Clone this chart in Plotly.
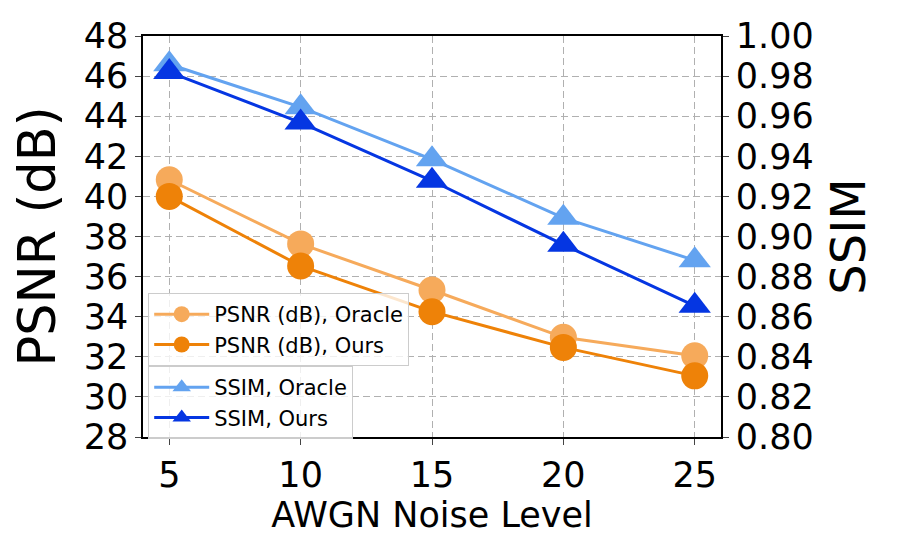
import plotly.graph_objects as go

noise = [5, 10, 15, 20, 25]
psnr_oracle = [40.83, 37.63, 35.33, 32.97, 32.05]
psnr_ours = [40.00, 36.53, 34.25, 32.47, 31.05]
ssim_oracle = [0.9859, 0.9645, 0.9385, 0.9093, 0.8881]
ssim_ours = [0.9820, 0.9568, 0.9278, 0.8959, 0.8654]

left_ticks = list(range(28, 49, 2))
right_ticks = [0.80, 0.82, 0.84, 0.86, 0.88, 0.90, 0.92, 0.94, 0.96, 0.98, 1.00]

c_po = "#F6AA5B"
c_pu = "#EE8208"
c_so = "#63A3F0"
c_su = "#0536E2"

FONT = "DejaVu Sans"

fig = go.Figure()
fig.add_trace(go.Scatter(x=noise, y=psnr_oracle, name="PSNR (dB), Oracle", mode="lines+markers",
                         line=dict(color=c_po, width=3), marker=dict(symbol="circle", size=27, color=c_po),
                         legend="legend", yaxis="y"))
fig.add_trace(go.Scatter(x=noise, y=psnr_ours, name="PSNR (dB), Ours", mode="lines+markers",
                         line=dict(color=c_pu, width=3), marker=dict(symbol="circle", size=27, color=c_pu),
                         legend="legend", yaxis="y"))
fig.add_trace(go.Scatter(x=noise, y=ssim_oracle, name="SSIM, Oracle", mode="lines+markers",
                         line=dict(color=c_so, width=3), marker=dict(symbol="triangle-up", size=28, color=c_so),
                         legend="legend2", yaxis="y2"))
fig.add_trace(go.Scatter(x=noise, y=ssim_ours, name="SSIM, Ours", mode="lines+markers",
                         line=dict(color=c_su, width=3), marker=dict(symbol="triangle-up", size=28, color=c_su),
                         legend="legend2", yaxis="y2"))

grid = dict(showgrid=True, gridcolor="#b0b0b0", gridwidth=1.1, griddash="7px,4px")

fig.update_layout(
    width=900, height=555,
    margin=dict(l=143, r=179, t=36, b=118),
    paper_bgcolor="white", plot_bgcolor="white",
    font=dict(family=FONT, color="black"),
    xaxis=dict(range=[4, 26], tickvals=noise, ticks="outside", ticklen=6, tickwidth=1.2,
               showline=True, linecolor="black", linewidth=1.5, mirror=True,
               tickfont=dict(size=35), title=dict(text="AWGN Noise Level", font=dict(size=35), standoff=6),
               zeroline=False, **grid),
    yaxis=dict(range=[28, 48], tickvals=left_ticks, ticks="outside", ticklen=6, tickwidth=1.2,
               showline=True, linecolor="black", linewidth=1.5, mirror=True,
               tickfont=dict(size=35), title=dict(text="PSNR (dB)", font=dict(size=51), standoff=12),
               zeroline=False, **grid),
    yaxis2=dict(range=[0.80, 1.00], tickvals=right_ticks, tickformat=".2f", overlaying="y", side="right",
                ticks="outside", ticklen=6, tickwidth=1.2, showline=True, linecolor="black", linewidth=1.5,
                tickfont=dict(size=35), title=dict(text="SSIM", font=dict(size=48), standoff=19),
                showgrid=False, zeroline=False),
    legend=dict(x=0.009, y=0.359, xanchor="left", yanchor="top", bgcolor="rgba(255,255,255,0.8)",
                bordercolor="#cccccc", borderwidth=1, font=dict(size=21, family=FONT), itemwidth=55,
                tracegroupgap=0),
    legend2=dict(x=0.009, y=0.177, xanchor="left", yanchor="top", bgcolor="rgba(255,255,255,0.8)",
                 bordercolor="#cccccc", borderwidth=1, font=dict(size=21, family=FONT), itemwidth=55,
                 tracegroupgap=0),
    showlegend=True,
)

fig.write_html("out.html")
